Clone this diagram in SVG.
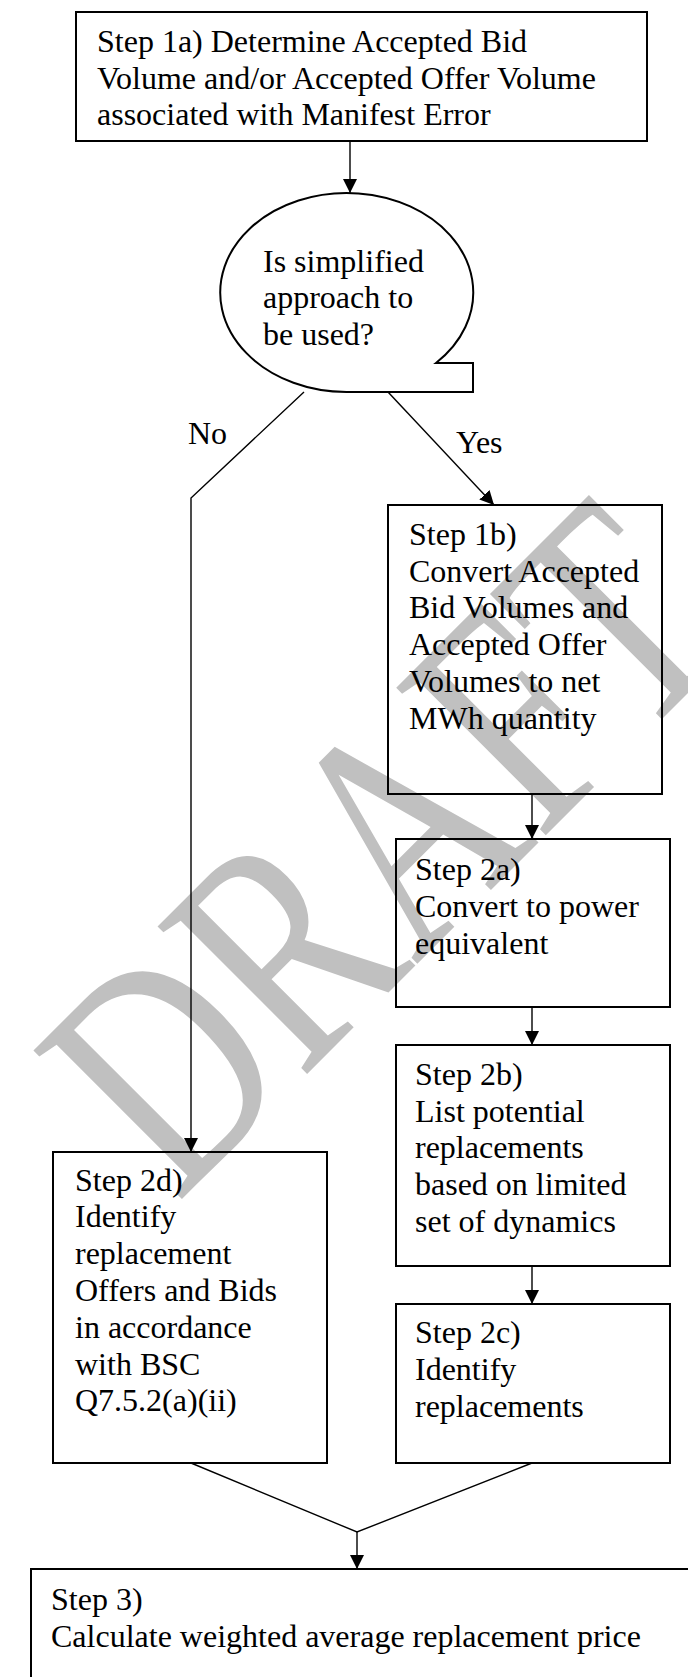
<svg xmlns="http://www.w3.org/2000/svg" width="688" height="1677" viewBox="0 0 688 1677">
<defs>
<style>
.box{fill:none;stroke:#000;stroke-width:2}
.ln{fill:none;stroke:#000;stroke-width:1.4}
.t{font-family:"Liberation Serif","Times New Roman",serif;font-size:32px;fill:#000}
.wm{font-family:"Liberation Serif","Times New Roman",serif;font-size:243px;fill:#c0c0c0}
</style>
<marker id="ah" markerUnits="userSpaceOnUse" viewBox="0 0 14 14" refX="14" refY="7" markerWidth="14" markerHeight="14" orient="auto">
<path d="M0,0 L14,7 L0,14 Z" fill="#000"/>
</marker>
</defs>
<rect width="688" height="1677" fill="#fff"/>
<g id="watermark">
<text class="wm" transform="translate(177,1204) rotate(-45) scale(1,1.32)">DRAFT</text>
</g>
<g id="connectors">
<path class="ln" d="M350,141 V193" marker-end="url(#ah)"/>
<path class="ln" d="M304,392 L191,498 V1152" marker-end="url(#ah)"/>
<path class="ln" d="M388,392 L494,505" marker-end="url(#ah)"/>
<path class="ln" d="M532,794 V839" marker-end="url(#ah)"/>
<path class="ln" d="M532,1007 V1045" marker-end="url(#ah)"/>
<path class="ln" d="M532,1266 V1304" marker-end="url(#ah)"/>
<path class="ln" d="M191,1463 L357,1532 L532,1463"/>
<path class="ln" d="M357,1532 V1569" marker-end="url(#ah)"/>
<text class="t" x="188" y="444">No</text>
<text class="t" x="456" y="453">Yes</text>
</g>
<g id="step1a">
<rect class="box" x="76" y="12" width="571" height="129"/>
<text class="t" x="97" y="52">Step 1a) Determine Accepted Bid</text>
<text class="t" x="97" y="88.5">Volume and/or Accepted Offer Volume</text>
<text class="t" x="97" y="125">associated with Manifest Error</text>
</g>
<g id="decision">
<path class="box" d="M346.5,392 A126.5,99.5 0 1 1 436,363 L473,363 L473,392 Z"/>
<text class="t" x="263" y="272">Is simplified</text>
<text class="t" x="263" y="308">approach to</text>
<text class="t" x="263" y="345">be used?</text>
</g>
<g id="step1b">
<rect class="box" x="388" y="505" width="274" height="289"/>
<text class="t" x="409" y="545">Step 1b)</text>
<text class="t" x="409" y="582">Convert Accepted</text>
<text class="t" x="409" y="618">Bid Volumes and</text>
<text class="t" x="409" y="655">Accepted Offer</text>
<text class="t" x="409" y="692">Volumes to net</text>
<text class="t" x="409" y="729">MWh quantity</text>
</g>
<g id="step2a">
<rect class="box" x="396" y="839" width="274" height="168"/>
<text class="t" x="415" y="880">Step 2a)</text>
<text class="t" x="415" y="917">Convert to power</text>
<text class="t" x="415" y="954">equivalent</text>
</g>
<g id="step2b">
<rect class="box" x="396" y="1045" width="274" height="221"/>
<text class="t" x="415" y="1085">Step 2b)</text>
<text class="t" x="415" y="1122">List potential</text>
<text class="t" x="415" y="1158">replacements</text>
<text class="t" x="415" y="1195">based on limited</text>
<text class="t" x="415" y="1232">set of dynamics</text>
</g>
<g id="step2c">
<rect class="box" x="396" y="1304" width="274" height="159"/>
<text class="t" x="415" y="1343">Step 2c)</text>
<text class="t" x="415" y="1380">Identify</text>
<text class="t" x="415" y="1417">replacements</text>
</g>
<g id="step2d">
<rect class="box" x="53" y="1152" width="274" height="311"/>
<text class="t" x="75" y="1191">Step 2d)</text>
<text class="t" x="75" y="1227">Identify</text>
<text class="t" x="75" y="1264">replacement</text>
<text class="t" x="75" y="1301">Offers and Bids</text>
<text class="t" x="75" y="1338">in accordance</text>
<text class="t" x="75" y="1375">with BSC</text>
<text class="t" x="75" y="1411">Q7.5.2(a)(ii)</text>
</g>
<g id="step3">
<rect class="box" x="31" y="1569" width="700" height="150"/>
<text class="t" x="51" y="1610">Step 3)</text>
<text class="t" x="51" y="1647">Calculate weighted average replacement price</text>
</g>
</svg>
